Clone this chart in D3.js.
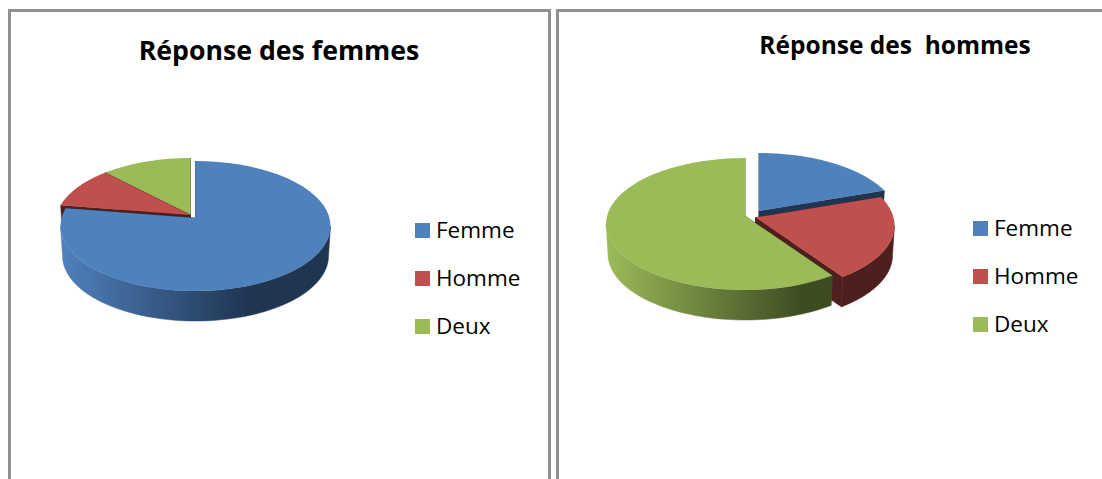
<!DOCTYPE html>
<meta charset="utf-8">
<style>
body { margin: 0; background: #fff; }
svg { display: block; }
text { fill: #000; white-space: pre; }
.title { font-family: "Open Sans", sans-serif; font-weight: 700; text-anchor: middle; }
.legendLabel { font-family: "Open Sans", sans-serif; font-size: 22.5px; }
.frame { fill: none; stroke: #8f8f8f; stroke-width: 3; }
</style>
<svg width="1102" height="479"></svg>
<script src="https://d3js.org/d3.v7.min.js"></script>
<script>
	var categories = ["Femme", "Homme", "Deux"];
	var femmesValues = [79.4, 9.7, 10.9];
	var hommesValues = [17.9, 21.3, 60.8];
	var colors = ["#4f81bd", "#c0504d", "#9bbb59"];
	var darkColors = ["#1f3552", "#4e1f1d", "#3e4c22"];

	var svg = d3.select("svg");
	var defs = svg.append("defs");
	var color = d3.scaleOrdinal().domain(categories).range(colors);
	var dark = d3.scaleOrdinal().domain(categories).range(darkColors);
	var pie = d3.pie().sort(null).value(function(d) { return d.value; });
	var line = d3.line();

	var depth = 30;
	var apexShift = -8; // the perspective puts the apex above the ellipse centre

	// panel frames, open at the bottom
	svg.append("path").attr("class", "frame").attr("d", "M9.5 479V10.5H549.5V479");
	svg.append("path").attr("class", "frame").attr("d", "M557.5 479V10.5H1102");

	function rimPoint(s, a, bottom)
	{
		var rx = bottom ? s.rx - 2 : s.rx;
		return [s.cx + rx * Math.sin(a), s.cy - s.ry * Math.cos(a) + (bottom ? depth : 0)];
	}

	function rimArc(s, a0, a1, bottom)
	{
		return d3.range(0, 61).map(function(i) {
			return rimPoint(s, a0 + (a1 - a0) * i / 60, bottom);
		});
	}

	function drawSlice(g, d, s, id)
	{
		var name = d.data.name;
		var apex = [s.cx, s.cy + apexShift];
		var apexLow = [s.cx, s.cy + apexShift + depth];

		// cut faces
		[d.startAngle, d.endAngle].forEach(function(a) {
			g.append("path")
				.attr("d", line([apex, rimPoint(s, a), rimPoint(s, a, true), apexLow]) + "Z")
				.style("fill", dark(name))
				.style("stroke", dark(name))
				.style("stroke-width", 0.5);
		});

		// outer wall, only the front half of the rim shows
		var a0 = Math.max(d.startAngle, Math.PI / 2);
		var a1 = Math.min(d.endAngle, 3 * Math.PI / 2);
		if (a1 > a0) {
			var grad = defs.append("linearGradient")
				.attr("id", id)
				.attr("gradientUnits", "userSpaceOnUse")
				.attr("x1", s.cx - s.rx)
				.attr("x2", s.cx + s.rx * 0.4)
				.attr("y1", 0)
				.attr("y2", 0);
			grad.append("stop").attr("offset", 0).attr("stop-color", color(name));
			grad.append("stop").attr("offset", 1).attr("stop-color", dark(name));
			var wall = rimArc(s, a0, a1, false).concat(rimArc(s, a1, a0, true));
			g.append("path")
				.attr("d", line(wall) + "Z")
				.style("fill", "url(#" + id + ")")
				.style("stroke", "url(#" + id + ")")
				.style("stroke-width", 0.5);
		}

		// top face
		g.append("path")
			.attr("d", line([apex].concat(rimArc(s, d.startAngle, d.endAngle, false))) + "Z")
			.style("fill", color(name));
	}

	function drawChart(chart)
	{
		var rows = categories.map(function(c, i) { return { name: c, value: chart.values[i] }; });
		var arcs = pie(rows);
		var g = svg.append("g");
		chart.order.forEach(function(i) {
			var place = chart.places[i];
			drawSlice(g, arcs[i], {
				cx: place[0],
				cy: place[1],
				rx: chart.rx,
				ry: chart.ry
			}, chart.id + i);
		});

		svg.append("text")
			.attr("class", "title")
			.attr("x", chart.titleX)
			.attr("y", chart.titleY)
			.style("font-size", chart.titleSize + "px")
			.text(chart.title);

		var legend = svg.append("g").selectAll("g")
			.data(categories)
			.join("g")
			.attr("transform", function(d, i) {
				return "translate(" + chart.legendX + "," + (chart.legendY + i * chart.legendStep) + ")";
			});
		legend.append("rect")
			.attr("width", 15)
			.attr("height", 15)
			.style("fill", function(d) { return color(d); });
		legend.append("text")
			.attr("class", "legendLabel")
			.attr("x", 21)
			.attr("y", 15)
			.text(function(d) { return d; });
	}

	drawChart({
		id: "femmes", title: "Réponse des femmes", values: femmesValues,
		titleX: 279, titleY: 60, titleSize: 26.7,
		rx: 135, ry: 65,
		places: [[195.5, 226], [190.5, 223], [190.5, 223]],
		order: [2, 1, 0],
		legendX: 415, legendY: 223, legendStep: 48
	});
	drawChart({
		id: "hommes", title: "Réponse des  hommes", values: hommesValues,
		titleX: 895, titleY: 54, titleSize: 24.5,
		rx: 139, ry: 66,
		places: [[759, 219], [755.5, 225.5], [745, 224]],
		order: [0, 1, 2],
		legendX: 973, legendY: 221, legendStep: 48
	});
</script>
